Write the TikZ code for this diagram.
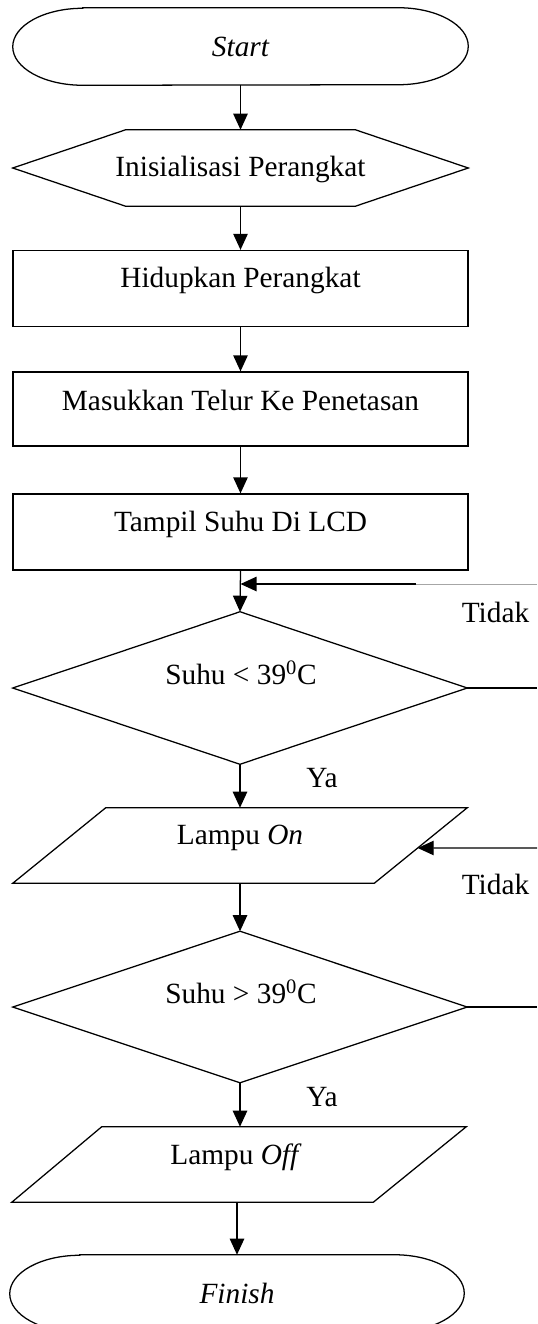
\documentclass[tikz,border=0pt]{standalone}
\usepackage{fontspec}
\setmainfont{Liberation Serif}
\usetikzlibrary{arrows.meta,calc}
\tikzset{
  every node/.style={font=\fontsize{22}{26}\selectfont, inner sep=0pt},
  frame/.style={draw=none, minimum width=340.5pt},
  proc/.style={draw, line width=0.95pt, minimum width=341.25pt, minimum height=57pt},
  outline/.style={draw, line width=0.95pt, line join=miter},
  arr/.style={line width=0.95pt, -{Triangle[length=12pt,width=10.8pt]}},
  plain/.style={line width=0.95pt},
  txt/.style={anchor=center}
}
\begin{document}
\begin{tikzpicture}[x=0.75pt,y=-0.75pt]
\useasboundingbox (0,0) rectangle (537,1324);

% shapes (invisible frames holding the geometry)
\node[frame, minimum width=341.25pt, minimum height=57.75pt] (start) at (240.5,46.5) {};
\node[frame, minimum width=341.25pt, minimum height=57pt] (init) at (240.5,168) {};
\node[proc] (p1) at (240.5,288.5) {};
\node[proc, minimum height=55.5pt] (p2) at (240.5,409) {};
\node[proc] (p3) at (240.5,532) {};
\node[frame, minimum height=114pt] (d1) at (240,688) {};
\node[frame, minimum height=56.25pt] (on) at (240,845.5) {};
\node[frame, minimum height=113.25pt] (d2) at (240,1007) {};
\node[frame, minimum height=56.25pt] (off) at (239,1164.5) {};
\node[frame, minimum width=340.5pt, minimum height=57.75pt] (fin) at (237,1293.5) {};

% outlines
\draw[outline] ([xshift=52.5pt]start.north west) -- ([xshift=-52.5pt]start.north east)
  arc[start angle=90,end angle=-90,x radius=52.5pt,y radius=28.875pt]
  -- ([xshift=52.5pt]start.south west)
  arc[start angle=270,end angle=90,x radius=52.5pt,y radius=28.875pt] -- cycle;
\draw[outline] (init.west) -- ([xshift=84.75pt]init.north west) -- ([xshift=-84.75pt]init.north east)
  -- (init.east) -- ([xshift=-84.75pt]init.south east) -- ([xshift=84.75pt]init.south west) -- cycle;
\draw[outline] (d1.north) -- (d1.east) -- (d1.south) -- (d1.west) -- cycle;
\draw[outline] ([xshift=69.75pt]on.north west) -- (on.north east) -- ([xshift=-69.75pt]on.south east) -- (on.south west) -- cycle;
\draw[outline] (d2.north) -- (d2.east) -- (d2.south) -- (d2.west) -- cycle;
\draw[outline] ([xshift=67.5pt]off.north west) -- (off.north east) -- ([xshift=-69.75pt]off.south east) -- (off.south west) -- cycle;
\draw[outline] ([xshift=52.5pt]fin.north west) -- ([xshift=-52.5pt]fin.north east)
  arc[start angle=90,end angle=-90,x radius=52.5pt,y radius=28.875pt]
  -- ([xshift=52.5pt]fin.south west)
  arc[start angle=270,end angle=90,x radius=52.5pt,y radius=28.875pt] -- cycle;

% texts
\node[txt] (tstart) at (240.5,47) {\itshape Start};
\node[txt] (tinit) at (240.5,169) {Inisialisasi Perangkat};
\node[txt] (tp1) at (240.5,280) {Hidupkan Perangkat};
\node[txt] (tp2) at (240.5,400) {Masukkan Telur Ke Penetasan};
\node[txt] (tp3) at (240.5,524) {Tampil Suhu Di LCD};
\node[txt] (td1) at (241,673) {Suhu < 39\textsuperscript{0}C};
\node[txt] (ton) at (240,838) {Lampu \textit{On}};
\node[txt] (td2) at (241,992) {Suhu > 39\textsuperscript{0}C};
\node[txt] (toff) at (236,1157) {Lampu \textit{Off}};
\node[txt] (tfin) at (237,1293) {\itshape Finish};
\node[txt] (tidak1) at (495.5,612) {Tidak};
\node[txt] (tidak2) at (495.5,884) {Tidak};
\node[txt] (ya1) at (322,778) {Ya};
\node[txt] (ya2) at (322,1097) {Ya};

% edge coordinates at the right margin
\coordinate (r1) at (537,584);
\coordinate (r1g) at (416,584);
\coordinate (r2) at (537,848);

% connectors
\draw[arr] (start.south) -- (init.north);
\draw[arr] (init.south) -- (p1.north);
\draw[arr] (p1.south) -- (p2.north);
\draw[arr] (p2.south) -- (p3.north);
\draw[arr] (p3.south) -- (d1.north);
\draw[gray!70, line width=0.5pt] (r1) -- (r1g);
\draw[arr] (r1g) -- (r1g -| p3.south);
\draw[plain] (d1.east) -- (d1.east -| r1);
\draw[arr] (d1.south) -- (on.north);
\draw[arr] (r2) -- ($(on.north east)!0.533!([xshift=-69.75pt]on.south east)$);
\draw[arr] (on.south) -- (d2.north);
\draw[plain] (d2.east) -- (d2.east -| r1);
\draw[arr] (d2.south) -- (d2.south |- off.north);
\draw[arr] ([xshift=-1.5pt]off.south) -- ([xshift=-1.5pt]off.south |- fin.north);
\end{tikzpicture}
\end{document}
